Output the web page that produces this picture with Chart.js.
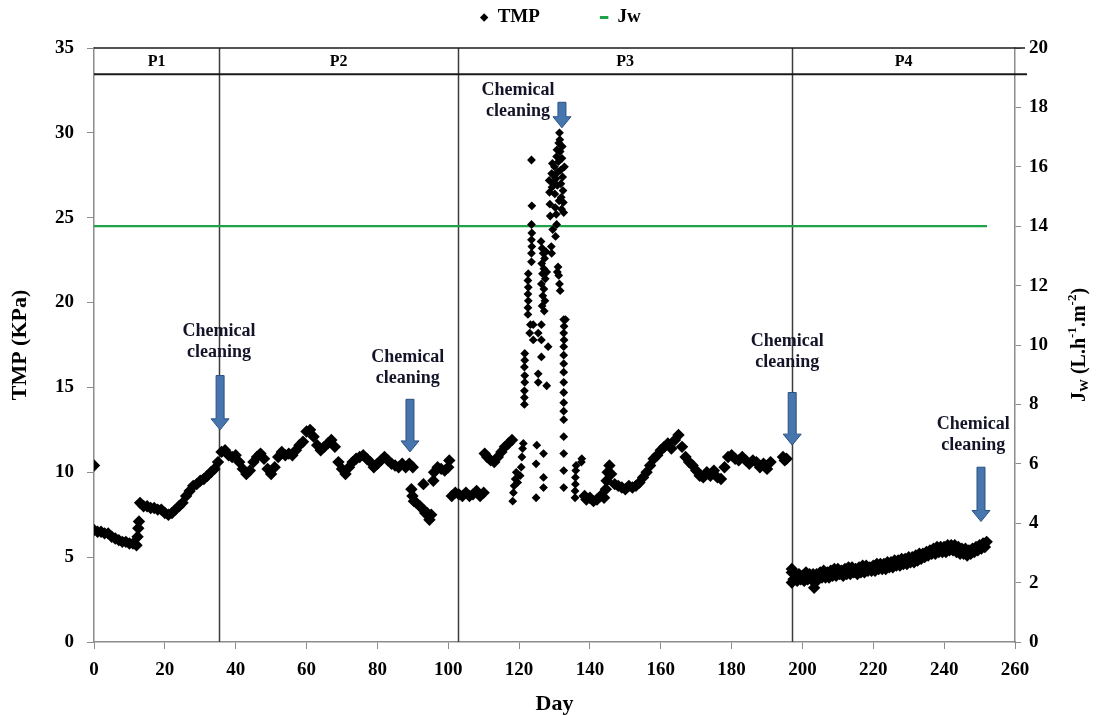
<!DOCTYPE html>
<html>
<head>
<meta charset="utf-8">
<script src="https://cdn.jsdelivr.net/npm/chart.js@4.4.1/dist/chart.umd.min.js"></script>
<style>
  html, body { margin: 0; padding: 0; background: #fff; }
  #caixa { width: 1097px; height: 715px; }
</style>
</head>
<body>
<div id="caixa"><canvas id="graficoTmp" width="1097" height="715"></canvas></div>
<script>
// --- dados (dia, TMP em KPa) ---
const diasP1 = [0, 0, 1, 2, 3, 4, 5, 6, 7, 8, 9, 10, 11, 12, 12.3, 12.5, 12.7,
  13, 14, 15, 16, 17, 18, 19, 20, 21, 22, 23, 24, 25, 26, 27, 28, 29, 30, 31, 32, 33, 34, 35];
const tmpP1 = [10.4, 6.6, 6.5, 6.5, 6.4, 6.4, 6.2, 6.1, 6.0, 5.9, 5.9, 5.8, 5.8, 5.7, 6.2, 6.7, 7.1,
  8.2, 8.0, 8.0, 7.9, 7.9, 7.8, 7.8, 7.6, 7.5, 7.6, 7.8, 8.0, 8.2, 8.6, 8.9, 9.2, 9.3, 9.5, 9.6, 9.8, 10.0, 10.2, 10.6];

const diasP2 = [36, 37, 38, 39, 40, 41, 42, 43, 44, 45,
  46, 47, 48, 49, 50, 51, 52, 53, 54, 55,
  56, 57, 58, 59, 60, 61, 62, 63, 64, 65,
  66, 67, 68, 69, 70, 71, 72, 73, 74, 75,
  76, 77, 78, 79, 80, 81, 82, 83, 84, 85,
  86, 87, 88, 89, 90,
  89.6, 89.9, 90.3, 91, 92, 93, 93.5, 94, 94.7, 95.2,
  93, 95.8, 96, 97, 98, 99, 100, 100.3];
const tmpP2 = [11.2, 11.3, 11.0, 10.9, 11.0, 10.6, 10.2, 9.9, 10.1, 10.6,
  10.9, 11.1, 10.8, 10.2, 9.9, 10.3, 10.9, 11.2, 11.0, 11.1,
  11.0, 11.3, 11.6, 11.8, 12.4, 12.5, 12.1, 11.6, 11.3, 11.5,
  11.7, 11.9, 11.5, 10.6, 10.2, 9.9, 10.3, 10.6, 10.8, 10.9,
  11.0, 10.8, 10.6, 10.3, 10.5, 10.7, 10.9, 10.7, 10.5, 10.4,
  10.3, 10.5, 10.3, 10.5, 10.3,
  9.0, 8.6, 8.3, 8.2, 8.0, 7.8, 7.6, 7.6, 7.2, 7.5,
  9.3, 9.5, 10.0, 10.3, 10.2, 10.1, 10.3, 10.7];

const diasP3 = [101, 102, 103, 104, 105, 106, 107, 108, 109, 110,
  110.3, 111, 112, 113, 114, 115, 116, 117, 118,
  138.5, 139, 140, 141, 142, 143, 144, 144.5, 144.7, 145, 145.5,
  146, 147, 148, 149, 150, 151, 152, 153, 154, 155,
  156, 157, 158, 159, 160, 161, 162, 163, 164, 165,
  166, 167, 168, 169, 170, 171, 172, 173, 174, 175,
  176, 177, 178, 179, 180, 181, 182, 183, 184, 185,
  186, 187, 188, 189, 190, 191, 194.5, 195, 195.5];
const tmpP3 = [8.6, 8.8, 8.7, 8.6, 8.8, 8.6, 8.7, 8.9, 8.6, 8.8,
  11.1, 10.9, 10.7, 10.6, 10.9, 11.2, 11.5, 11.7, 11.9,
  8.6, 8.4, 8.5, 8.3, 8.4, 8.6, 8.5, 9.0, 9.5, 10.0, 10.4,
  9.9, 9.3, 9.2, 9.1, 9.0, 9.2, 9.1, 9.2, 9.4, 9.7,
  10.0, 10.4, 10.8, 11.0, 11.3, 11.5, 11.7, 11.4, 11.9, 12.2,
  11.5, 10.9, 10.6, 10.4, 10.1, 9.8, 9.7, 10.0, 9.8, 10.1,
  9.7, 9.6, 10.3, 10.9, 11.0, 10.8, 10.7, 10.9, 10.7, 10.5,
  10.7, 10.6, 10.3, 10.5, 10.2, 10.6, 10.9, 10.7, 10.8];

// pico de TMP antes da limpeza quimica (P3)
const diasPico = [118.2, 118.4, 118.6, 118.9, 119.2, 119.6, 120.3, 120.6, 120.8, 121.0,
  121.2, 121.5, 121.5, 121.5, 121.6, 121.6, 121.5, 121.6, 121.6, 122.5,
  122.5, 122.6, 122.5, 122.6, 122.5, 122.6, 123.0, 123.2, 123.5, 123.5,
  123.6, 123.5, 123.6, 123.5, 123.6, 123.5, 124.0, 126.3, 125.4, 124.0,
  126.3, 128.2, 126.3, 125.4, 125.4, 127.8, 124.8, 124.8, 125.0, 126.9,
  126.9, 126.9, 126.2, 126.5, 126.8, 127.2, 126.4, 127.0, 126.6, 127.4,
  126.3, 127.0, 126.7, 127.3, 126.5, 127.1, 127.6, 127.8, 128.5, 128.6,
  128.7, 128.8, 129.2, 129.4, 129.3, 129.6, 129.8, 130.0, 130.1, 130.2,
  130.4, 130.6, 130.7, 130.8, 131.0, 131.1, 131.2, 131.4, 131.5, 131.6,
  131.7, 131.8, 131.9, 132.0, 132.1, 132.2, 132.3, 132.4, 132.5, 132.6,
  132.8, 131.3, 130.5, 129.5, 130.3, 129.1, 129.2, 130.6, 131.0, 131.2,
  131.4, 131.6, 130.8, 132.6, 132.7, 132.6, 132.7, 132.6, 132.6, 132.6,
  132.6, 132.6, 132.6, 132.6, 132.6, 132.6, 132.6, 132.6, 132.6, 132.6,
  133.1, 135.8, 135.8, 135.9, 135.9, 136.0, 136.1, 137.6, 137.7];
const tmpPico = [8.3, 8.8, 9.2, 9.6, 10.0, 9.4, 9.8, 10.3, 10.9, 11.4,
  11.7, 14.0, 14.4, 14.8, 15.3, 15.7, 16.2, 16.6, 17.0, 19.3,
  19.7, 20.1, 20.5, 20.9, 21.3, 21.7, 18.2, 18.7, 22.4, 22.9,
  23.3, 23.7, 24.1, 24.6, 25.7, 28.4, 18.7, 18.7, 18.2, 17.8,
  17.8, 17.4, 16.8, 15.8, 15.3, 15.1, 10.5, 8.5, 11.6, 11.1,
  9.7, 9.1, 23.6, 23.2, 22.9, 22.6, 22.3, 22.0, 21.7, 21.4,
  21.1, 20.8, 20.4, 20.1, 19.8, 19.5, 23.0, 21.8, 27.2, 26.5,
  25.8, 25.1, 27.6, 28.2, 26.8, 27.0, 27.5, 28.0, 26.4, 25.6,
  27.3, 28.6, 29.0, 26.9, 27.7, 28.3, 29.4, 30.0, 29.6, 28.9,
  27.8, 27.0, 26.2, 25.5, 28.5, 29.2, 27.4, 26.6, 25.9, 25.3,
  28.0, 26.0, 25.2, 24.3, 23.9, 23.3, 22.9, 24.6, 22.1, 21.6,
  21.1, 20.7, 21.8, 19.0, 18.6, 18.2, 17.8, 17.4, 16.9, 16.4,
  15.9, 15.3, 14.7, 14.1, 13.6, 13.1, 12.1, 11.1, 10.1, 9.1,
  19.0, 8.5, 8.9, 9.3, 9.7, 10.1, 10.4, 10.6, 10.8];

const diasP4a = [197, 198, 199, 200, 201, 202, 203, 204, 205, 206,
  207, 208, 209, 210, 211, 212, 213, 214, 215, 216,
  217, 218, 219, 220, 221, 222, 223, 224, 225, 226,
  227, 228, 229, 230, 231, 232, 233, 234, 235, 236,
  237, 238, 239, 240, 241, 242, 243, 244, 245, 246,
  247, 248, 249, 250, 251, 252];
const tmpP4a = [4.1, 4.0, 4.0, 3.9, 4.1, 4.0, 4.0, 4.0, 4.1, 4.2,
  4.1, 4.2, 4.3, 4.3, 4.2, 4.3, 4.4, 4.4, 4.3, 4.4,
  4.5, 4.5, 4.4, 4.5, 4.6, 4.6, 4.6, 4.7, 4.7, 4.8,
  4.8, 4.9, 4.9, 5.0, 5.0, 5.1, 5.2, 5.2, 5.3, 5.4,
  5.5, 5.6, 5.6, 5.6, 5.7, 5.7, 5.7, 5.6, 5.5, 5.5,
  5.4, 5.5, 5.6, 5.7, 5.8, 5.9];
const diasP4b = [197.5, 198.5, 199.5, 200.5, 201.5, 202.5, 203.5, 204.5, 205.5, 206.5,
  207.5, 208.5, 209.5, 210.5, 211.5, 212.5, 213.5, 214.5, 215.5, 216.5,
  217.5, 218.5, 219.5, 220.5, 221.5, 222.5, 223.5, 224.5, 225.5, 226.5,
  227.5, 228.5, 229.5, 230.5, 231.5, 232.5, 233.5, 234.5, 235.5, 236.5,
  237.5, 238.5, 239.5, 240.5, 241.5, 242.5, 243.5, 244.5, 245.5, 246.5,
  247.5, 248.5, 249.5, 250.5, 251.5, 197, 197, 203.3];
const tmpP4b = [3.7, 3.6, 3.7, 3.6, 3.7, 3.7, 3.5, 3.7, 3.8, 3.8,
  3.8, 3.9, 3.9, 4.0, 3.9, 4.0, 4.0, 4.1, 4.0, 4.1,
  4.1, 4.2, 4.2, 4.2, 4.3, 4.3, 4.3, 4.4, 4.4, 4.5,
  4.5, 4.6, 4.6, 4.7, 4.7, 4.8, 4.9, 5.0, 5.1, 5.2,
  5.2, 5.3, 5.3, 5.3, 5.4, 5.4, 5.3, 5.2, 5.2, 5.1,
  5.2, 5.3, 5.4, 5.5, 5.6, 3.5, 4.3, 3.2];

// fluxo Jw (eixo da direita)
const diasJw = [0, 252.1];
const valoresJw = [14, 14];

// periodos
const limitesPeriodos = [35.3, 102.8, 197.1];
const rotulosPeriodos = ['P1', 'P2', 'P3', 'P4'];
const baseFaixa = 33.45;

// limpezas quimicas: seta (dia, topo, ponta) e texto (dia, tmp)
const limpezas = [
  { dia: 35.6, topo: 15.7, ponta: 12.5, diaTexto: 35.3, tmpTexto: 18.3 },
  { dia: 89.2, topo: 14.3, ponta: 11.2, diaTexto: 88.6, tmpTexto: 16.8 },
  { dia: 132.1, topo: 31.8, ponta: 30.3, diaTexto: 119.7, tmpTexto: 32.5 },
  { dia: 197.1, topo: 14.7, ponta: 11.6, diaTexto: 195.7, tmpTexto: 17.7 },
  { dia: 250.4, topo: 10.3, ponta: 7.1, diaTexto: 248.2, tmpTexto: 12.8 }
];

const serif = '"Liberation Serif", "Times New Roman", serif';

function pontos(dias, valores) {
  const n = Math.min(dias.length, valores.length);
  const lista = [];
  for (let i = 0; i < n; i++) lista.push({ x: dias[i], y: valores[i] });
  return lista;
}

const faixaTmp = [].concat(
  pontos(diasP1, tmpP1), pontos(diasP2, tmpP2), pontos(diasP3, tmpP3),
  pontos(diasP4a, tmpP4a), pontos(diasP4b, tmpP4b)
);
const picoTmp = pontos(diasPico, tmpPico);

function seta(ctx, px, y0, y1) {
  const meio = 4, asa = 9, cabeca = 11;
  ctx.beginPath();
  ctx.moveTo(px - meio, y0);
  ctx.lineTo(px + meio, y0);
  ctx.lineTo(px + meio, y1 - cabeca);
  ctx.lineTo(px + asa, y1 - cabeca);
  ctx.lineTo(px, y1);
  ctx.lineTo(px - asa, y1 - cabeca);
  ctx.lineTo(px - meio, y1 - cabeca);
  ctx.closePath();
  ctx.fillStyle = '#4676ad';
  ctx.fill();
  ctx.strokeStyle = '#2c5283';
  ctx.lineWidth = 1;
  ctx.stroke();
}

const desenhos = {
  id: 'desenhos',
  beforeDatasetsDraw(chart) {
    const { ctx, chartArea: a, scales: { x, y } } = chart;
    ctx.save();
    // linhas dos periodos
    ctx.strokeStyle = '#3c3c3c';
    ctx.lineWidth = 1.5;
    limitesPeriodos.forEach(d => {
      const px = Math.round(x.getPixelForValue(d)) + 0.5;
      ctx.beginPath();
      ctx.moveTo(px, a.top);
      ctx.lineTo(px, a.bottom);
      ctx.stroke();
    });
    // faixa do topo
    const yTopo = y.getPixelForValue(35);
    const yBase = y.getPixelForValue(baseFaixa);
    ctx.strokeStyle = '#1a1a1a';
    ctx.lineWidth = 1.5;
    ctx.beginPath();
    ctx.moveTo(a.left, yTopo);
    ctx.lineTo(a.right + 10, yTopo);
    ctx.stroke();
    ctx.lineWidth = 2;
    ctx.beginPath();
    ctx.moveTo(a.left, yBase);
    ctx.lineTo(a.right + 12, yBase);
    ctx.stroke();
    const bordas = [0].concat(limitesPeriodos, [260]);
    ctx.fillStyle = '#000';
    ctx.font = 'bold 16px ' + serif;
    ctx.textAlign = 'center';
    ctx.textBaseline = 'middle';
    rotulosPeriodos.forEach((r, i) => {
      const cx = (x.getPixelForValue(bordas[i]) + x.getPixelForValue(bordas[i + 1])) / 2;
      ctx.fillText(r, cx, (yTopo + yBase) / 2 + 1);
    });
    ctx.restore();
  },
  afterDatasetsDraw(chart) {
    const { ctx, scales: { x, y } } = chart;
    ctx.save();
    limpezas.forEach(l => {
      seta(ctx, x.getPixelForValue(l.dia), y.getPixelForValue(l.topo), y.getPixelForValue(l.ponta));
      const tx = x.getPixelForValue(l.diaTexto);
      const ty = y.getPixelForValue(l.tmpTexto);
      ctx.fillStyle = '#141428';
      ctx.font = 'bold 18px ' + serif;
      ctx.textAlign = 'center';
      ctx.textBaseline = 'middle';
      ctx.fillText('Chemical', tx, ty);
      ctx.fillText('cleaning', tx, ty + 21);
    });
    ctx.restore();
  },
  afterDraw(chart) {
    // titulo do eixo direito: Jw (L.h-1.m-2)
    const { ctx, chartArea: a } = chart;
    const eixo = chart.scales.y2;
    const partes = [
      { t: 'J', f: 20, d: 0 },
      { t: 'W', f: 13, d: 5 },
      { t: ' (L.h', f: 20, d: 0 },
      { t: '-1', f: 13, d: -7 },
      { t: '.m', f: 20, d: 0 },
      { t: '-2', f: 13, d: -7 },
      { t: ')', f: 20, d: 0 }
    ];
    ctx.save();
    ctx.fillStyle = '#000';
    ctx.textBaseline = 'middle';
    ctx.textAlign = 'left';
    let total = 0;
    partes.forEach(p => { ctx.font = 'bold ' + p.f + 'px ' + serif; p.w = ctx.measureText(p.t).width; total += p.w; });
    ctx.translate(eixo.right - 17, (a.top + a.bottom) / 2);
    ctx.rotate(-Math.PI / 2);
    let cx = -total / 2;
    partes.forEach(p => {
      ctx.font = 'bold ' + p.f + 'px ' + serif;
      ctx.fillText(p.t, cx, p.d);
      cx += p.w;
    });
    ctx.restore();
  }
};

const fonteTicks = { family: serif, size: 19, weight: 'bold' };

new Chart(document.getElementById('graficoTmp'), {
  type: 'scatter',
  data: {
    datasets: [
      {
        label: 'TMP',
        data: faixaTmp,
        yAxisID: 'y',
        pointStyle: 'rectRot',
        pointRadius: 6.2,
        pointHoverRadius: 6.2,
        backgroundColor: '#000',
        borderColor: '#000',
        borderWidth: 0
      },
      {
        label: 'TMP pico',
        data: picoTmp,
        yAxisID: 'y',
        pointStyle: 'rectRot',
        pointRadius: 4.4,
        pointHoverRadius: 4.4,
        backgroundColor: '#000',
        borderColor: '#000',
        borderWidth: 0
      },
      {
        label: 'Jw',
        type: 'line',
        data: pontos(diasJw, valoresJw),
        yAxisID: 'y2',
        borderColor: '#1fa24a',
        backgroundColor: '#1fa24a',
        borderWidth: 2.2,
        pointRadius: 0,
        pointStyle: 'line'
      }
    ]
  },
  options: {
    responsive: false,
    animation: false,
    layout: { padding: { top: 0, left: 24, right: 0, bottom: 0 } },
    plugins: {
      legend: {
        position: 'top',
        labels: {
          usePointStyle: true,
          boxWidth: 8,
          boxHeight: 6,
          padding: 8,
          color: '#000',
          font: { family: serif, size: 19, weight: 'bold' },
          generateLabels(chart) {
            const itens = Chart.defaults.plugins.legend.labels.generateLabels(chart)
              .filter(i => i.datasetIndex !== 1)
              .sort((p, q) => p.datasetIndex - q.datasetIndex);
            itens.forEach(i => {
              if (i.datasetIndex === 0) {
                i.text = 'TMP\u00a0\u00a0\u00a0\u00a0\u00a0\u00a0\u00a0\u00a0\u00a0\u00a0\u00a0';
                i.lineWidth = 0;
              } else {
                i.lineWidth = 3;
              }
            });
            return itens;
          }
        }
      },
      subtitle: {
        display: true,
        text: ' ',
        position: 'top',
        weight: 500,
        font: { size: 1, lineHeight: 1 },
        padding: { top: 0, bottom: 10 }
      },
      tooltip: { enabled: false }
    },
    scales: {
      x: {
        type: 'linear',
        min: 0,
        max: 260,
        ticks: { stepSize: 20, color: '#000', font: fonteTicks, padding: 10, maxRotation: 0 },
        grid: { drawOnChartArea: false, drawTicks: true, tickLength: 7, color: '#8c8c8c' },
        border: { display: true, color: '#8c8c8c', width: 1.5 },
        title: { display: true, text: 'Day', color: '#000', font: { family: serif, size: 22, weight: 'bold', lineHeight: 1 }, padding: { top: 0, bottom: 0 } },
        afterFit(s) { s.height = 73; }
      },
      y: {
        position: 'left',
        min: 0,
        max: 35,
        ticks: { stepSize: 5, color: '#000', font: fonteTicks, padding: 13 },
        grid: { drawOnChartArea: false, drawTicks: true, tickLength: 7, color: '#8c8c8c' },
        border: { display: true, color: '#8c8c8c', width: 1.5 },
        title: { display: true, text: 'TMP (KPa)', color: '#000', font: { family: serif, size: 22, weight: 'bold' }, padding: { top: -17, bottom: 0 } },
        afterFit(s) { s.width = 70; }
      },
      y2: {
        position: 'right',
        min: 0,
        max: 20,
        ticks: { stepSize: 2, color: '#000', font: fonteTicks, padding: 8 },
        grid: { drawOnChartArea: false, drawTicks: true, tickLength: 6, color: '#8c8c8c' },
        border: { display: true, color: '#8c8c8c', width: 1.5 },
        afterFit(s) { s.width = 82; }
      }
    }
  },
  plugins: [desenhos]
});
</script>
</body>
</html>
